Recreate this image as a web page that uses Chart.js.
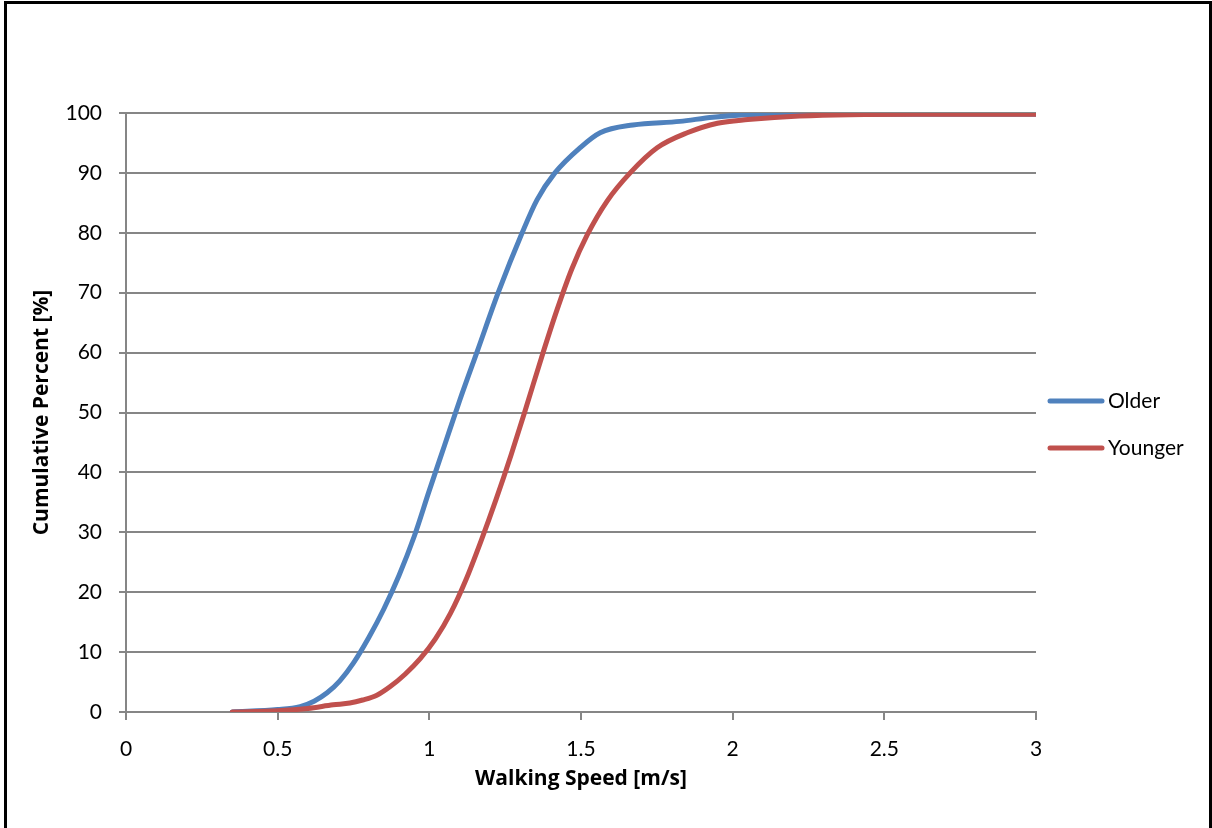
<!DOCTYPE html>
<html>
<head>
<meta charset="utf-8">
<script src="https://cdn.jsdelivr.net/npm/chart.js@4/dist/chart.umd.min.js"></script>
<style>
  html, body { margin: 0; padding: 0; background: #fff; overflow: hidden; }
  #wrap { position: relative; width: 1212px; height: 828px; }
  #frame { position: absolute; left: 4px; top: 1px; width: 1208px; height: 900px; box-sizing: border-box; border: 3px solid #000; pointer-events: none; }
  canvas { position: absolute; left: 0; top: 0; }
</style>
</head>
<body>
<div id="wrap">
  <canvas id="c" width="1212" height="828"></canvas>
  <div id="frame"></div>
</div>
<script>
// ---- data ----
const olderSpeed = [0.35, 0.50, 0.574, 0.62, 0.663, 0.705, 0.75, 0.80, 0.85, 0.90, 0.95, 1.00, 1.05, 1.10, 1.16, 1.227, 1.306, 1.355, 1.414, 1.497, 1.563, 1.671, 1.826, 1.935, 2.1, 2.5, 3.0];
const olderPct   = [0, 0.4, 0.9, 1.8, 3.2, 5.2, 8.2, 12.4, 17.2, 22.8, 29.3, 37, 44.5, 52, 60.5, 70, 80, 85.5, 90, 94.2, 96.7, 98, 98.6, 99.3, 99.8, 99.8, 99.8];

const youngerSpeed = [0.35, 0.50, 0.60, 0.683, 0.738, 0.78, 0.827, 0.87, 0.92, 0.97, 1.02, 1.07, 1.12, 1.17, 1.22, 1.27, 1.32, 1.37, 1.42, 1.47, 1.52, 1.586, 1.662, 1.751, 1.85, 1.95, 2.05, 2.22, 2.6, 3.0];
const youngerPct   = [0, 0.2, 0.6, 1.2, 1.5, 2.0, 2.8, 4.2, 6.3, 8.9, 12.2, 16.5, 22, 28.5, 35.5, 43, 51, 59.2, 67, 74, 79.6, 85.3, 90, 94.2, 96.7, 98.3, 98.9, 99.5, 99.8, 99.8];

const seriesNames = ['Older', 'Younger'];
const xTickValues = [0, 0.5, 1, 1.5, 2, 2.5, 3];
const yTickValues = [0, 10, 20, 30, 40, 50, 60, 70, 80, 90, 100];
const xTitle = 'Walking Speed [m/s]';
const yTitle = 'Cumulative Percent [%]';

// ---- build ----
const toPts = (xs, ys) => xs.map((x, i) => ({ x: x, y: ys[i] }));
const FONT = 'Lato';
const TITLE_FONT = 'Open Sans';
const GRID = '#868686';

const legendPlugin = {
  id: 'sideLegend',
  afterDraw(chart) {
    const ctx = chart.ctx;
    const ys = [401, 448];
    ctx.save();
    chart.data.datasets.forEach((ds, i) => {
      const y = ys[i];
      ctx.strokeStyle = ds.borderColor;
      ctx.lineWidth = 5;
      ctx.lineCap = 'round';
      ctx.beginPath();
      ctx.moveTo(1050, y);
      ctx.lineTo(1102, y);
      ctx.stroke();
      ctx.fillStyle = '#000';
      ctx.font = '21px ' + FONT;
      ctx.textBaseline = 'middle';
      ctx.textAlign = 'left';
      ctx.fillText(ds.label, 1108, y);
    });
    ctx.restore();
  }
};

new Chart(document.getElementById('c'), {
  type: 'scatter',
  data: {
    datasets: [
      { label: seriesNames[0], data: toPts(olderSpeed, olderPct), borderColor: '#4F81BD', backgroundColor: '#4F81BD', order: 1 },
      { label: seriesNames[1], data: toPts(youngerSpeed, youngerPct), borderColor: '#C0504D', backgroundColor: '#C0504D', order: 0 }
    ]
  },
  options: {
    responsive: false,
    animation: false,
    devicePixelRatio: 1,
    showLine: true,
    elements: {
      point: { radius: 0, hoverRadius: 0 },
      line: { borderWidth: 5, cubicInterpolationMode: 'monotone', fill: false, borderCapStyle: 'round', borderJoinStyle: 'round' }
    },
    layout: { padding: { left: 0, top: 113, right: 176, bottom: 0 } },
    plugins: { legend: { display: false }, tooltip: { enabled: false } },
    scales: {
      x: {
        type: 'linear', min: 0, max: 3,
        afterBuildTicks: (s) => { s.ticks = xTickValues.map(v => ({ value: v })); },
        afterFit: (s) => { s.height = 116; },
        ticks: { color: '#000', font: { family: FONT, size: 21 }, padding: 17, maxRotation: 0, callback: (v) => String(+v) },
        grid: { drawOnChartArea: false, drawTicks: true, tickLength: 8, color: GRID, lineWidth: 2 },
        border: { display: true, color: GRID, width: 2 },
        title: { display: true, text: xTitle, color: '#000', font: { family: TITLE_FONT, size: 21, weight: 'bold' }, padding: { top: 0, bottom: 36 } }
      },
      y: {
        type: 'linear', min: 0, max: 100,
        afterBuildTicks: (s) => { s.ticks = yTickValues.map(v => ({ value: v })); },
        afterFit: (s) => { s.width = 126; },
        ticks: { color: '#000', font: { family: FONT, size: 21 }, padding: 17, callback: (v) => String(+v) },
        grid: { drawOnChartArea: true, drawTicks: true, tickLength: 7, color: GRID, lineWidth: 2 },
        border: { display: true, color: GRID, width: 2 },
        title: { display: true, text: yTitle, color: '#000', font: { family: TITLE_FONT, size: 21, weight: 'bold' }, padding: { top: 29, bottom: 0 } }
      }
    }
  },
  plugins: [legendPlugin]
});
</script>
</body>
</html>
